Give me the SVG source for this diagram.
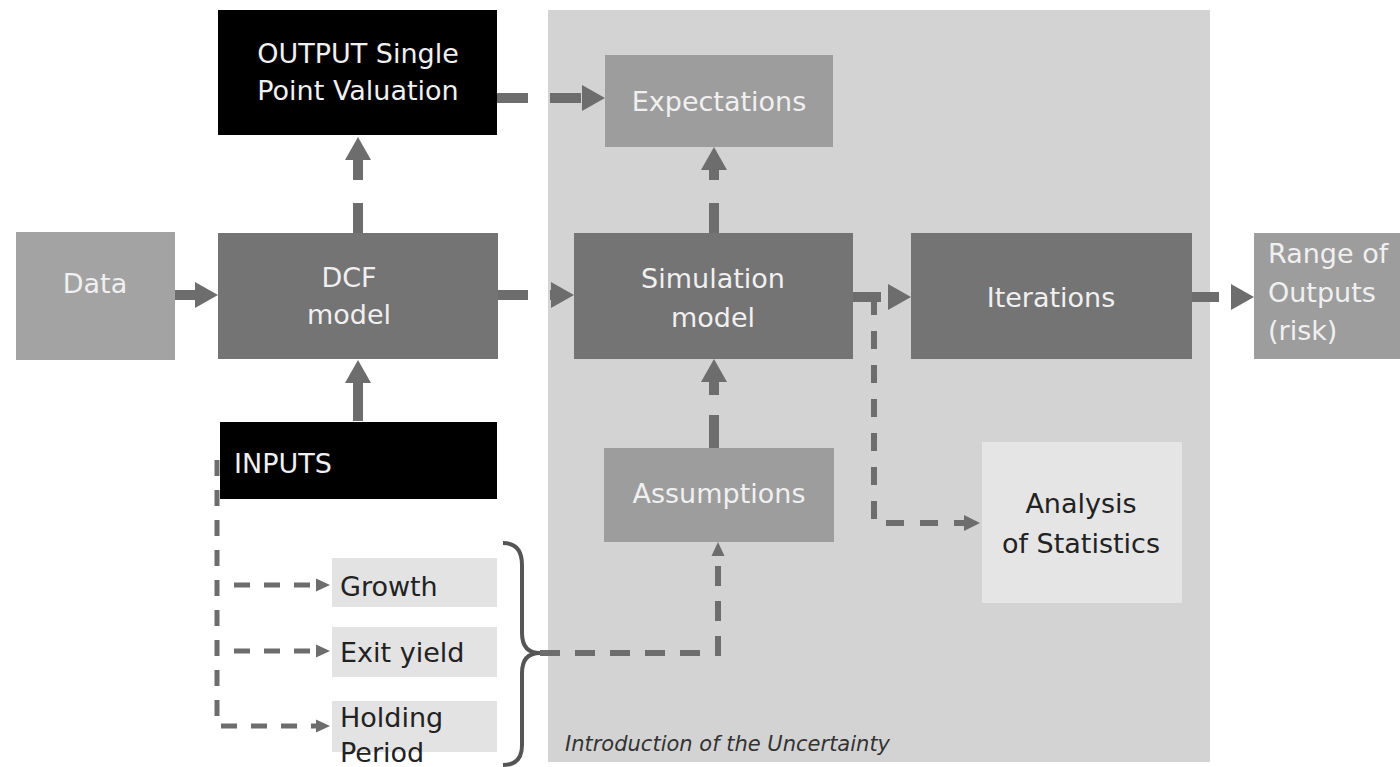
<svg xmlns="http://www.w3.org/2000/svg" width="1400" height="767" viewBox="0 0 1400 767">
<style>
.lbl{font-family:"DejaVu Sans","Liberation Sans",sans-serif;font-size:27px;fill:#f0f0f0}
.dk{fill:#222}
.mid{text-anchor:middle}
.black{fill:#000}
.dark{fill:#747474}
.med{fill:#9d9d9d}
.light{fill:#e3e3e3}
.thick{fill:none;stroke:#6d6d6d;stroke-width:10}
.thin{fill:none;stroke:#6d6d6d;stroke-width:6}
.thinner{fill:none;stroke:#6d6d6d;stroke-width:5}
</style>
<defs>
<marker id="big" markerUnits="userSpaceOnUse" viewBox="0 -14 24 28" markerWidth="24" markerHeight="28" refX="0" refY="0" orient="auto"><path d="M0,-13 L23,0 L0,13 z" fill="#6d6d6d"/></marker>
<marker id="small" markerUnits="userSpaceOnUse" viewBox="0 -9 17 18" markerWidth="17" markerHeight="18" refX="0" refY="0" orient="auto"><path d="M0,-8 L16,0 L0,8 z" fill="#6d6d6d"/></marker>
<marker id="tiny" markerUnits="userSpaceOnUse" viewBox="0 -7 15 14" markerWidth="15" markerHeight="14" refX="0" refY="0" orient="auto"><path d="M0,-6.5 L14,0 L0,6.5 z" fill="#6d6d6d"/></marker>
</defs>
<rect width="1400" height="767" fill="#ffffff"/>
<g id="uncertainty-panel">
<rect x="548" y="10" width="662" height="752" fill="#d3d3d3"/>
<text x="565" y="751" font-family="DejaVu Sans, sans-serif" font-size="21" font-style="italic" fill="#333">Introduction of the Uncertainty</text>
</g>
<g id="output"><rect x="218" y="10" width="279" height="125" class="black"/><text class="lbl mid" x="358" y="63">OUTPUT Single</text><text class="lbl mid" x="358" y="100">Point Valuation</text></g>
<g id="data"><rect x="16" y="232" width="159" height="128" fill="#a3a3a3"/><text class="lbl mid" x="95" y="293">Data</text></g>
<g id="dcf"><rect x="218" y="233" width="280" height="126" class="dark"/><text class="lbl mid" x="349" y="287">DCF</text><text class="lbl mid" x="349" y="324">model</text></g>
<g id="inputs"><rect x="220" y="422" width="277" height="77" class="black"/><text class="lbl" x="234" y="473" font-size="29">INPUTS</text></g>
<g id="expectations"><rect x="605" y="55" width="228" height="92" class="med"/><text class="lbl mid" x="719" y="111">Expectations</text></g>
<g id="simulation"><rect x="574" y="233" width="279" height="126" class="dark"/><text class="lbl mid" x="713" y="288">Simulation</text><text class="lbl mid" x="713" y="327">model</text></g>
<g id="iterations"><rect x="911" y="233" width="281" height="126" class="dark"/><text class="lbl mid" x="1051" y="307">Iterations</text></g>
<g id="range"><rect x="1254" y="233" width="146" height="126" class="med"/><text class="lbl" x="1268" y="263">Range of</text><text class="lbl" x="1268" y="302">Outputs</text><text class="lbl" x="1268" y="340">(risk)</text></g>
<g id="assumptions"><rect x="604" y="448" width="230" height="94" class="med"/><text class="lbl mid" x="719" y="503">Assumptions</text></g>
<g id="analysis"><rect x="982" y="442" width="200" height="161" fill="#e5e5e5"/><text class="lbl mid dk" x="1081" y="513">Analysis</text><text class="lbl mid dk" x="1081" y="553">of Statistics</text></g>
<g id="growth"><rect x="332" y="558" width="165" height="49" class="light"/><text class="lbl dk" x="340" y="596">Growth</text></g>
<g id="exit-yield"><rect x="332" y="627" width="165" height="50" class="light"/><text class="lbl dk" x="340" y="662">Exit yield</text></g>
<g id="holding-period"><rect x="332" y="701" width="165" height="51" class="light"/><text class="lbl dk" x="340" y="727">Holding</text><text class="lbl dk" x="340" y="762">Period</text></g>
<g id="brace"><path d="M503,543 Q522,543 522,565 V633 Q522,653 540,653 Q522,653 522,673 V745 Q522,765 503,765" fill="none" stroke="#555" stroke-width="4"/></g>
<g id="connectors">
<path class="thick" d="M175,295 H195" marker-end="url(#big)"/>
<path class="thick" d="M358,233 V160" stroke-dasharray="30 23" marker-end="url(#big)"/>
<path class="thick" d="M358,421 V383" marker-end="url(#big)"/>
<path class="thick" d="M497,98 H582" stroke-dasharray="31 22" marker-end="url(#big)"/>
<path class="thick" d="M498,295 H551" stroke-dasharray="30 22" marker-end="url(#big)"/>
<path class="thick" d="M714,233 V170" stroke-dasharray="30 23" marker-end="url(#big)"/>
<path class="thick" d="M714,448 V382" stroke-dasharray="33 20" marker-end="url(#big)"/>
<path class="thick" d="M853,297 H888" stroke-dasharray="28 7" marker-end="url(#big)"/>
<path class="thick" d="M1192,297 H1231" stroke-dasharray="27 13" marker-end="url(#big)"/>
<path class="thin" d="M874,297 V523 H964" stroke-dasharray="18 16" marker-end="url(#small)"/>
<path class="thin" d="M540,653 H718 V556" stroke-dasharray="20 15" marker-end="url(#tiny)"/>
<path class="thinner" d="M217,460 V726 H316" stroke-dasharray="16 14" marker-end="url(#tiny)"/>
<path class="thinner" d="M234,585 H316" stroke-dasharray="16 14" marker-end="url(#tiny)"/>
<path class="thinner" d="M234,651 H316" stroke-dasharray="16 14" marker-end="url(#tiny)"/>
</g>
</svg>
